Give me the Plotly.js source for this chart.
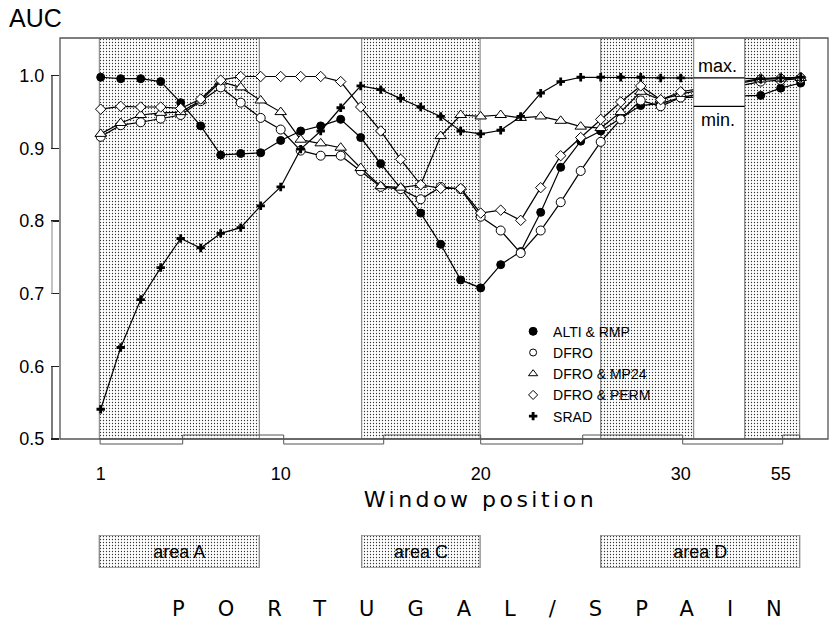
<!DOCTYPE html>
<html>
<head>
<meta charset="utf-8">
<script src="https://cdn.plot.ly/plotly-3.0.1.min.js"></script>
<style>
html,body{margin:0;padding:0;background:#fff;}
#chart{width:832px;height:623px;}
g.annotation[data-index="1"] text.annotation-text{letter-spacing:3.5px;}
g.annotation[data-index="2"] text.annotation-text{letter-spacing:33px;}
</style>
</head>
<body>
<div id="chart"></div>
<script>
// ---------------- data ----------------
const windowPositions = [1,2,3,4,5,6,7,8,9,10,11,12,13,14,15,16,17,18,19,20,21,22,23,24,25,26,27,28,29,30,54,55,56];

const altiRmp = [0.998,0.996,0.996,0.992,0.963,0.931,0.891,0.893,0.894,0.911,0.924,0.931,0.940,0.915,0.879,0.845,0.811,0.768,0.719,0.708,0.740,0.758,0.812,0.874,0.910,0.924,0.942,0.959,0.962,0.970,0.973,0.983,0.990];
const dfro = [0.916,0.932,0.936,0.941,0.946,0.965,0.984,0.963,0.942,0.926,0.897,0.890,0.890,0.869,0.847,0.844,0.830,0.847,0.844,0.806,0.787,0.756,0.787,0.826,0.869,0.909,0.940,0.966,0.958,0.970,0.992,0.994,0.996];
const dfroMp24 = [0.920,0.935,0.946,0.949,0.950,0.966,0.992,0.984,0.966,0.950,0.912,0.907,0.901,0.873,0.848,0.846,0.850,0.917,0.946,0.944,0.946,0.942,0.944,0.938,0.930,0.928,0.950,0.978,0.967,0.975,0.995,0.996,0.997];
const dfroPerm = [0.954,0.958,0.957,0.957,0.955,0.968,0.994,0.999,0.999,0.999,0.999,0.999,0.992,0.957,0.924,0.885,0.850,0.845,0.845,0.811,0.815,0.801,0.846,0.890,0.915,0.940,0.964,0.986,0.967,0.978,0.996,0.997,0.998];
const srad = [0.541,0.626,0.692,0.736,0.776,0.763,0.783,0.791,0.821,0.847,0.899,0.924,0.956,0.986,0.981,0.969,0.957,0.944,0.924,0.920,0.925,0.944,0.976,0.992,0.998,0.998,0.998,0.998,0.997,0.997,0.996,0.997,0.998];

const seriesNames = ['ALTI & RMP','DFRO','DFRO & MP24','DFRO & PERM','SRAD'];

const xTickWindows = [1,10,20,30,55];
const yTickValues = [0.5,0.6,0.7,0.8,0.9,1.0];
const yTickLabels = ['0.5','0.6','0.7','0.8','0.9','1.0'];

// areas along the window axis (start, end in window units, before break shift)
const areaLabels = ['area A','area C','area D'];
const areaStart = [0.93, 14.05, 26.0];
const areaEnd   = [8.93, 19.97, 55.95];

const maxMinValues = [0.997, 0.958];  // max. / min. reference lines

// ---------------- helpers ----------------
const LAST_MAIN = 30;
const BREAK_SHIFT = 20;          // windows after the break are drawn shifted left
const breakFrom = 30.65, breakTo = 33.2;
const toPlotX = w => (w <= LAST_MAIN + 0.99 ? w : w - BREAK_SHIFT);
const xs = windowPositions.map(toPlotX);

const FONT = 'Liberation Sans, Arial, Helvetica, sans-serif';
const WIDE = 'DejaVu Sans, Verdana, sans-serif';

const mainBottom = 0.2448;   // paper y of main plot bottom

const markerStyles = [
  {symbol:'circle', size:8, color:'#000', line:{color:'#000', width:1}},
  {symbol:'circle', size:9, color:'#fff', line:{color:'#000', width:1}},
  {symbol:'triangle-up', size:10, color:'#fff', line:{color:'#000', width:1}},
  {symbol:'diamond', size:8, color:'#fff', line:{color:'#000', width:1}},
  {symbol:'cross', size:7, color:'#000', line:{color:'#000', width:0}}
];
const legendMarkers = [
  {symbol:'circle', size:8, color:'#000', line:{color:'#000', width:1}},
  {symbol:'circle', size:7, color:'#fff', line:{color:'#000', width:1}},
  {symbol:'triangle-up', size:8, color:'#fff', line:{color:'#000', width:1}},
  {symbol:'diamond', size:7, color:'#fff', line:{color:'#000', width:1}},
  {symbol:'cross', size:7, color:'#000', line:{color:'#000', width:0}}
];

const allSeries = [altiRmp, dfro, dfroMp24, dfroPerm, srad];

const pattern = {shape:'.', fgcolor:'#333', bgcolor:'#fff', size:3, solidity:0.15};

const bandStart = areaStart.map(toPlotX);
const bandEnd = areaEnd.map(toPlotX);

const traces = [];
// stippled bands in the main plot
traces.push({
  type:'bar', xaxis:'x', yaxis:'y',
  x: bandStart.map((s,i)=>(s+bandEnd[i])/2),
  width: bandStart.map((s,i)=>bandEnd[i]-s),
  y: bandStart.map(()=>0.7), base: 0.5,
  marker:{color:'#fff', pattern: pattern, line:{color:'#777', width:1}},
  showlegend:false, hoverinfo:'skip'
});
// area boxes below
traces.push({
  type:'bar', xaxis:'x', yaxis:'y2',
  x: bandStart.map((s,i)=>(s+bandEnd[i])/2),
  width: bandStart.map((s,i)=>bandEnd[i]-s),
  y: bandStart.map(()=>1), base: 0,
  text: areaLabels, textposition:'inside', insidetextanchor:'middle', textangle:0,
  constraintext:'none',
  textfont:{family:FONT, size:18, color:'#000'},
  marker:{color:'#fff', pattern: pattern, line:{color:'#888', width:1.3}},
  showlegend:false, hoverinfo:'skip'
});
// data series
allSeries.forEach((vals, i) => {
  traces.push({
    type:'scatter', mode:'lines+markers', x: xs, y: vals,
    line:{color:'#000', width:1.2},
    marker: markerStyles[i],
    name: seriesNames[i], showlegend:false, hoverinfo:'skip', cliponaxis:true
  });
});
// legend entries (markers only)
seriesNames.forEach((n, i) => {
  traces.push({
    type:'scatter', mode:'markers', x:[null], y:[null],
    marker: legendMarkers[i], name: n, showlegend:true
  });
});

const shapes = [];
// break box covering the axis gap
shapes.push({type:'rect', xref:'x', yref:'y', x0:breakFrom, x1:breakTo, y0:0.5, y1:1.052,
  fillcolor:'#fff', line:{width:0}, layer:'above'});
[breakFrom, breakTo].forEach(xv => shapes.push({type:'line', xref:'x', yref:'y', x0:xv, x1:xv, y0:0.5, y1:1.052,
  line:{color:'#777', width:1}, layer:'above'}));
maxMinValues.forEach(v => shapes.push({type:'line', xref:'x', yref:'y', x0:breakFrom, x1:breakTo, y0:v, y1:v,
  line:{color:'#000', width:1.2}, layer:'above'}));
// frame
shapes.push({type:'rect', xref:'paper', yref:'paper', x0:0, x1:1, y0:mainBottom, y1:1,
  line:{color:'#555', width:1.3}, fillcolor:'rgba(0,0,0,0)', layer:'above'});
// y axis brackets
const bx = -8/768;
[[1.0,0.9,'#222'],[0.8,0.7,'#999'],[0.6,0.5,'#222']].forEach(b => shapes.push({type:'line', xref:'paper', yref:'y',
  x0:bx, x1:bx, y0:b[0], y1:b[1], line:{color:b[2], width:1.2}, layer:'above'}));
// ruler steps beneath the x axis
const stepEdges = [0.97, 5.1, 10.15, 15.15, 20.0, 25.1, 30.1, 35.1, 35.95];
for (let i = 0; i < stepEdges.length - 1; i++) {
  const below = i % 2 === 0;
  shapes.push({type:'rect', xref:'x', yref:'paper', x0:stepEdges[i], x1:stepEdges[i+1],
    y0: below ? mainBottom - 5/531 : mainBottom, y1: below ? mainBottom : mainBottom + 4/531,
    line:{color:'#555', width:1}, fillcolor:'rgba(0,0,0,0)', layer:'above'});
}

const annotations = [
  {text:'AUC', xref:'paper', yref:'paper', x:-0.032, y:1.0377, showarrow:false,
   xanchor:'center', yanchor:'middle', font:{family:FONT, size:25, color:'#000'}},
  {text:'Window position', xref:'paper', yref:'paper', x:0.5475, y:0.130, showarrow:false,
   xanchor:'center', yanchor:'middle', font:{family:WIDE, size:22, color:'#000'}},
  {text:'PORTUGAL/SPAIN', xref:'paper', yref:'paper', x:0.5641, y:-0.0753, showarrow:false,
   xanchor:'center', yanchor:'middle', font:{family:WIDE, size:21, color:'#000'}},
  {text:'max.', xref:'x', yref:'y', x:31.85, y:1.0133, showarrow:false,
   xanchor:'center', yanchor:'middle', font:{family:FONT, size:18, color:'#000'}},
  {text:'min.', xref:'x', yref:'y', x:31.85, y:0.939, showarrow:false,
   xanchor:'center', yanchor:'middle', font:{family:FONT, size:18, color:'#000'}}
];

const layout = {
  width:832, height:623,
  margin:{l:60, r:4, t:38, b:54, pad:0},
  paper_bgcolor:'#fff', plot_bgcolor:'#fff',
  font:{family:FONT, color:'#000'},
  barmode:'overlay',
  showlegend:true,
  legend:{x:0.59, y:0.477, xanchor:'left', yanchor:'top', bgcolor:'rgba(0,0,0,0)',
    borderwidth:0, font:{family:FONT, size:14, color:'#000'}, traceorder:'normal'},
  xaxis:{range:[-1.035, 37.365], tickvals: xTickWindows.map(toPlotX), ticktext: xTickWindows.map(String),
    ticks:'', ticklabelstandoff:22, showline:false, showgrid:false, zeroline:false,
    tickfont:{family:FONT, size:18, color:'#000'}, anchor:'y', fixedrange:true},
  yaxis:{domain:[mainBottom, 1], range:[0.5, 1.052], tickvals:yTickValues, ticktext:yTickLabels,
    ticks:'outside', ticklen:8, tickwidth:1.2, tickcolor:'#222', ticklabelstandoff:3,
    showline:false, showgrid:false, zeroline:false,
    tickfont:{family:FONT, size:18, color:'#000'}, anchor:'x', fixedrange:true},
  yaxis2:{domain:[0.0019, 0.064], range:[0,1], visible:false, anchor:'x', fixedrange:true},
  shapes: shapes,
  annotations: annotations,
  hovermode:false
};

Plotly.newPlot('chart', traces, layout, {displayModeBar:false, staticPlot:true});
</script>
</body>
</html>
